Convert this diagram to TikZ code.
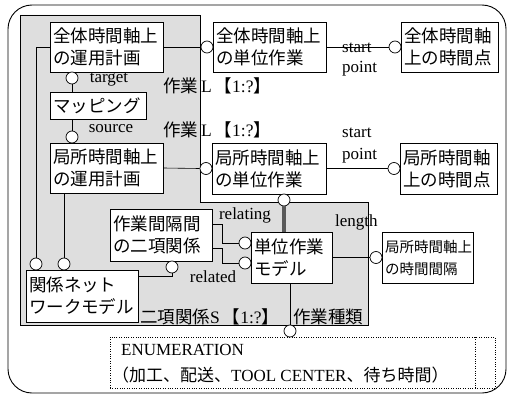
\documentclass[tikz,border=0pt]{standalone}
\usepackage{fontspec}
\setmainfont{Liberation Serif}
\newfontfamily\jp{Noto Sans CJK JP}
\newcommand\latn[1]{{\rmfamily #1}}
\begin{document}
\begin{tikzpicture}[x=1pt,y=-1pt,
  ent/.style={draw, fill=white, line width=0.7pt, inner sep=3pt, align=left,
    font=\jp\fontsize{17.5}{22}\selectfont, anchor=center},
  lbl/.style={inner sep=0pt, font=\fontsize{17}{20}\selectfont},
  jlbl/.style={inner sep=0pt, font=\jp\fontsize{17.5}{20}\selectfont},
  conn/.style={line width=0.6pt},
  cir/.style={circle, draw, fill=white, line width=0.7pt, minimum size=12pt, inner sep=0pt},
  region/.style={fill=black!13, draw, line width=0.6pt},
  dotbox/.style={draw, line width=0.6pt, dash pattern=on 1pt off 1.4pt},
]
\useasboundingbox (0,0) rectangle (509,396);
% outer frame
\draw[line width=0.9pt, rounded corners=24pt] (8,5) rectangle (506,393);
% shaded region
\draw[region] (20,15) -- (200,15) -- (200,202) -- (368,202) -- (368,325) -- (20,325) -- cycle;

% entities
\node[ent, text width=107pt, minimum height=50pt] (A) at (106.5,47) {全体時間軸上\\の運用計画};
\node[ent, text width=107pt, minimum height=50pt] (B) at (269.5,47) {全体時間軸上\\の単位作業};
\node[ent, text width=91pt, minimum height=50pt] (C) at (449.5,47) {全体時間軸\\上の時間点};
\node[ent, text width=90pt, minimum height=27pt] (D) at (98,105.5) {マッピング};
\node[ent, text width=107pt, minimum height=50pt] (E) at (106.5,168) {局所時間軸上\\の運用計画};
\node[ent, text width=108pt, minimum height=51pt] (F) at (269,168.5) {局所時間軸上\\の単位作業};
\node[ent, text width=91pt, minimum height=51pt] (G) at (448.5,168.5) {局所時間軸\\上の時間点};
\node[ent, text width=96pt, minimum height=52pt] (H) at (161,235) {作業間隔間\\の二項関係};
\node[ent, text width=75pt, minimum height=51pt] (I) at (291.5,257.5) {単位作業\\モデル};
\node[ent, text width=85pt, minimum height=51pt, font=\jp\fontsize{14.5}{22}\selectfont] (J) at (427.5,257.5) {局所時間軸上\\の時間間隔};
\node[ent, text width=106pt, minimum height=52pt] (K) at (82,296) {関係ネット\\ワークモデル};
\node[dotbox, minimum width=385pt, minimum height=51pt, inner sep=0pt] (L) at (302.5,362.5) {};
\draw[dotbox] (475,337) -- (475,388);
\node[lbl, anchor=west] (en1) at (121,350) {ENUMERATION};
\node[lbl, anchor=west] (en2) at (112,375) {{\jp （加工、配送、}TOOL CENTER{\jp 、待ち時間）}};

% circles
\node[cir] (cAB) at (207,47) {};
\node[cir] (cBC) at (395,47) {};
\node[cir] (cAD) at (72,78) {};
\node[cir] (cDE) at (72,137) {};
\node[cir] (cEF) at (206,168.5) {};
\node[cir] (cFG) at (394,168.5) {};
\node[cir] (cFI) at (284,200) {};
\node[cir] (cHI1) at (245,243) {};
\node[cir] (cHI2) at (245,263) {};
\node[cir] (cHK) at (172,267) {};
\node[cir] (cAK) at (36,264) {};
\node[cir] (cEK) at (64,264) {};
\node[cir] (cIJ) at (376,257.5) {};
\node[cir] (cIL) at (290,331) {};

% connectors
\draw[conn] (A.east) -- (cAB.west);
\draw[conn] (B.east) -- (cBC.west);
\draw[conn] (cAD.south) -- (cAD.south |- D.north);
\draw[conn] (cDE.north) -- (cDE.north |- D.south);
\draw[conn] (E.east) -- (cEF.west);
\draw[conn] (F.east) -- (cFG.west);
\draw[line width=4pt, black!65] (cFI.south) -- (cFI.south |- I.north);
\draw[conn] ([yshift=11pt]H.east) -- ++(10,0) |- (cHI1.west);
\draw[conn] ([yshift=-13pt]H.east) -- ++(10,0) |- (cHI2.west);
\draw[conn] (cHK.south) |- ([yshift=20pt]K.east);
\draw[conn] (A.west) -| (cAK.north);
\draw[conn] (cEK.north) -- (cEK.north |- E.south);
\draw[conn] (I.east) -- (cIJ.west);
\draw[conn] (cIL.north) -- (cIL.north |- I.south);

% labels
\node[lbl] (tgt) at (109,80) {target};
\node[lbl] (src) at (111,129) {source};
\node[jlbl, anchor=west] (w1) at (163,86) {作業\,\latn{L}\,【\latn{1:?}】};
\node[jlbl, anchor=west] (w2) at (163,130) {作業\,\latn{L}\,【\latn{1:?}】};
\node[lbl, align=left, anchor=west] (sp1) at (342,60) {start\\point};
\node[lbl, align=left, anchor=west, font=\fontsize{17}{22}\selectfont] (sp2) at (342,146) {start\\point};
\node[lbl] (rlt) at (245,215) {relating};
\node[lbl] (rld) at (213,277) {related};
\node[lbl, anchor=west] (len) at (335,222) {length};
\node[jlbl, anchor=west] (bin) at (140,317) {二項関係\latn{S}\,【\latn{1:?}】};
\node[jlbl, anchor=west] (kind) at (293,317) {作業種類};
\end{tikzpicture}
\end{document}
